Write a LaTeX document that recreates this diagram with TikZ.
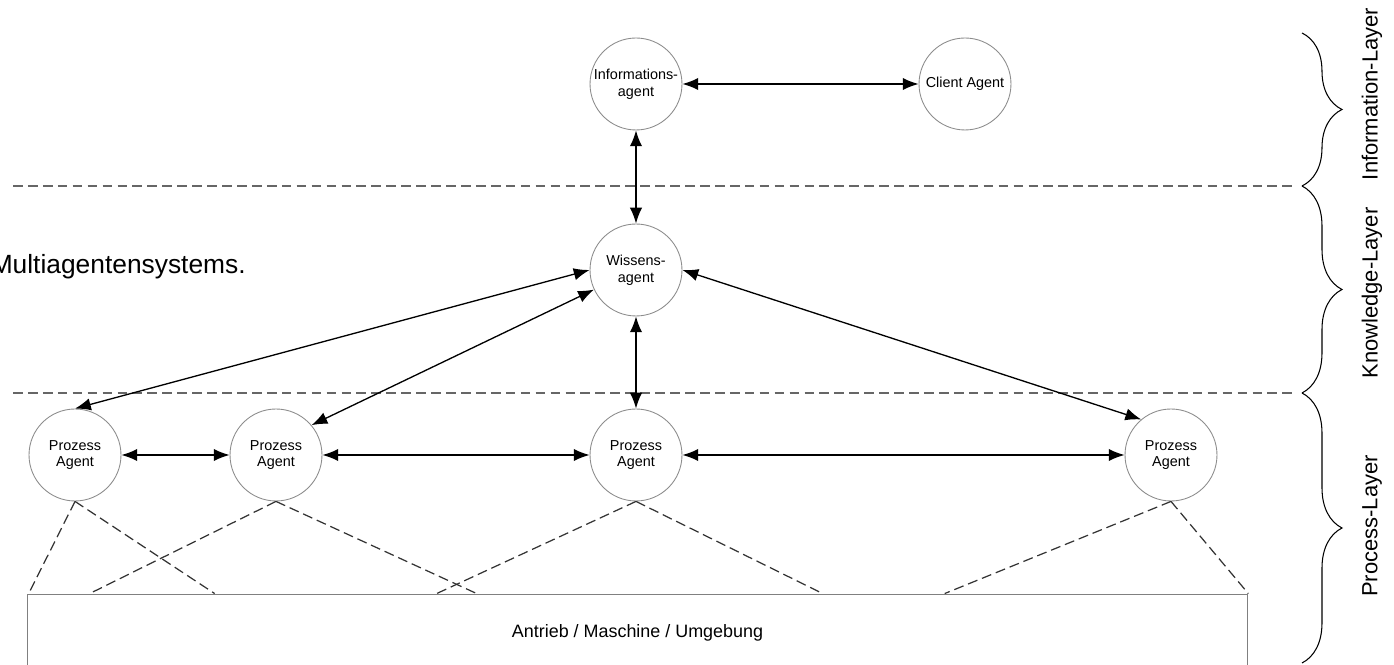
\documentclass[tikz,border=0pt]{standalone}
\usepackage{fontspec}
\setmainfont{Liberation Sans}
\usetikzlibrary{calc}
\usetikzlibrary{positioning}
\usetikzlibrary{arrows.meta}
\usetikzlibrary{decorations.pathreplacing}
\tikzstyle{agentnode} = [draw=black!45, line width=0.5pt, circle, minimum size=1.84cm, inner sep=0pt, align=center, font=\fontsize{8.2}{9.6}\selectfont]
\tikzstyle{machinenode} = [draw=black!50, line width=0.5pt, rectangle, minimum width=24.42cm, minimum height=1.56cm, inner sep=0pt, font=\fontsize{10.2}{12}\selectfont]
\tikzstyle{agentlink} = [line width=0.75pt, <->, >={Latex[length=9pt,width=7pt]}]
\tikzstyle{layerline} = [draw=black!60, line width=1pt, dash pattern=on 5.5pt off 3pt]
\tikzstyle{fieldline} = [draw=black!80, line width=0.7pt, dash pattern=on 5.7pt off 2.8pt]
\tikzstyle{layerbrace} = [draw=black, line width=0.6pt, decorate, decoration={brace, amplitude=0.8cm}]
\tikzstyle{layerlabel} = [rotate=90, inner sep=0pt, font=\fontsize{12.5}{15}\selectfont]

\begin{document}
\begin{tikzpicture}[x=0.02cm, y=0.02cm]
\useasboundingbox (0,0) rectangle (1394,665);

% layers
\draw[layerline] (13,479) -- (1292,479);
\draw[layerline] (13,272) -- (1292,272);
\draw[layerbrace] (1302,632) -- (1302,479);
\draw[layerbrace] (1302,479) -- (1302,272);
\draw[layerbrace] (1302,272) -- (1302,2);
\node[layerlabel] (info_layer) at (1372,571) {Information-Layer};
\node[layerlabel] (know_layer) at (1372,372) {Knowledge-Layer};
\node[layerlabel] (proc_layer) at (1372,139) {Process-Layer};

\node[anchor=east, inner sep=0pt, font=\fontsize{15}{18}\selectfont] (mas_caption) at (246,398) {Multiagentensystems.};

% agents
\node[agentnode] (info_agent) at (636,581) {Informations-\\agent};
\node[agentnode] (client_agent) at ($(info_agent)+(329,0)$) {Client Agent};
\node[agentnode] (know_agent) at ($(info_agent)+(0,-186)$) {Wissens-\\agent};
\node[agentnode] (proc_three) at ($(know_agent)+(0,-185)$) {Prozess\\Agent};
\node[agentnode] (proc_one) at ($(proc_three)+(-561,0)$) {Prozess\\Agent};
\node[agentnode] (proc_two) at ($(proc_three)+(-360,0)$) {Prozess\\Agent};
\node[agentnode] (proc_four) at ($(proc_three)+(535,0)$) {Prozess\\Agent};

\node[machinenode] (machine) at (637.5,32) {Antrieb / Maschine / Umgebung};

\draw[agentlink] (info_agent) -- (client_agent);
\draw[agentlink] (info_agent) -- (know_agent);
\draw[agentlink] (know_agent.west) -- (proc_one.north);
\draw[agentlink] (know_agent.205) -- (proc_two.40);
\draw[agentlink] (know_agent) -- (proc_three);
\draw[agentlink] (know_agent.east) -- (proc_four.130);
\draw[agentlink] (proc_one) -- (proc_two);
\draw[agentlink] (proc_two) -- (proc_three);
\draw[agentlink] (proc_three) -- (proc_four);

% fields of the agents
\coordinate (field_a) at ($(machine.north west)+(2,0)$);
\coordinate (field_b) at ($(machine.north west)+(188,0)$);
\coordinate (field_c) at ($(machine.north west)+(63,0)$);
\coordinate (field_d) at ($(machine.north west)+(450,0)$);
\coordinate (field_e) at ($(machine.north west)+(410,0)$);
\coordinate (field_f) at ($(machine.north west)+(796,0)$);
\coordinate (field_g) at ($(machine.north west)+(918,0)$);
\draw[fieldline] (proc_one.south) -- (field_a);
\draw[fieldline] (proc_one.south) -- (field_b);
\draw[fieldline] (proc_two.south) -- (field_c);
\draw[fieldline] (proc_two.south) -- (field_d);
\draw[fieldline] (proc_three.south) -- (field_e);
\draw[fieldline] (proc_three.south) -- (field_f);
\draw[fieldline] (proc_four.south) -- (field_g);
\draw[fieldline] (proc_four.south) -- (machine.north east);
\end{tikzpicture}
\end{document}
